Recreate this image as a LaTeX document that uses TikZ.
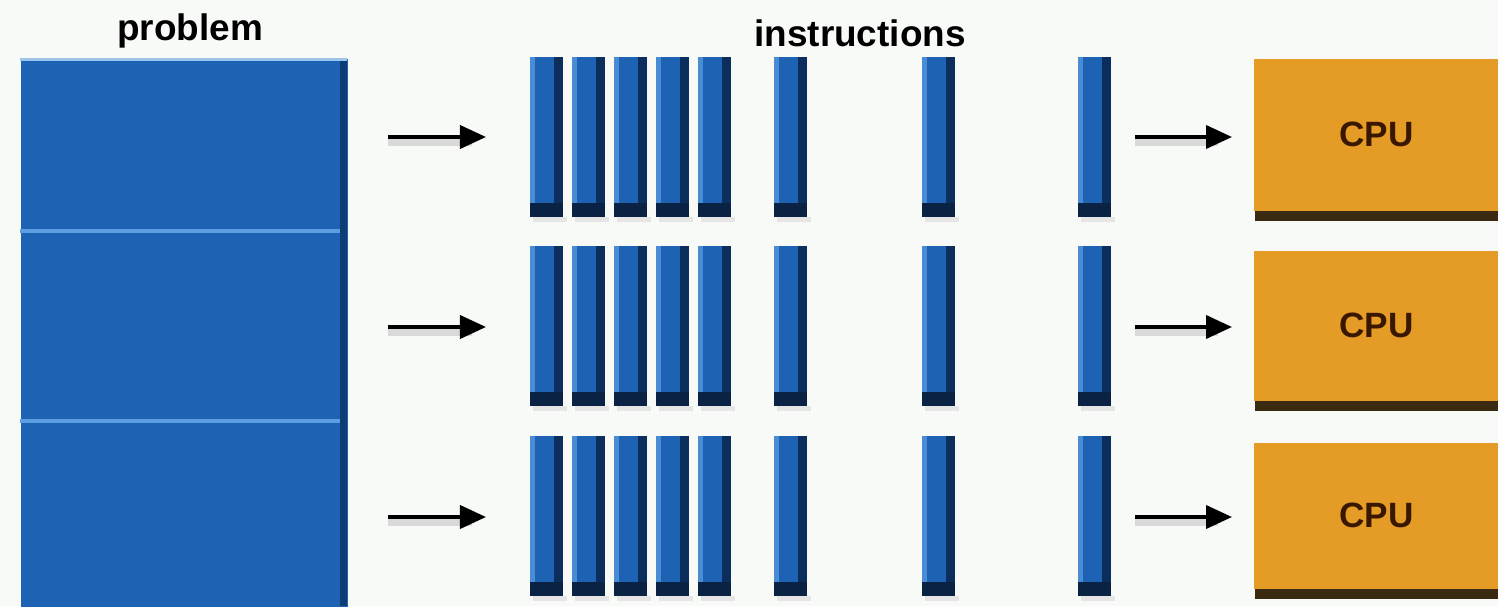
\documentclass[tikz,border=0pt]{standalone}
\usepackage{fontspec}
\setmainfont{Liberation Sans}
\usetikzlibrary{arrows.meta}
\definecolor{bgc}{HTML}{F8FAF7}
\definecolor{pblue}{HTML}{1E62B4}
\definecolor{pdark}{HTML}{0E3D74}
\definecolor{plight}{HTML}{5C9EE0}
\definecolor{bdark}{HTML}{0B2E5C}
\definecolor{bbot}{HTML}{0A2244}
\definecolor{cpuor}{HTML}{E49C26}
\definecolor{cpush}{HTML}{3B2A12}
\definecolor{cputx}{HTML}{3A1800}
\tikzset{
  lbl/.style={font=\fontsize{10.5}{12}\selectfont\bfseries, text=black, inner sep=0pt},
  cpubox/.style={fill=cpuor, draw=none, minimum width=2.45cm, minimum height=1.52cm, anchor=north west, inner sep=0pt,
     font=\fontsize{10}{12}\selectfont\bfseries, text=cputx},
  arr/.style={line width=1.1pt, -{Triangle[length=2.6mm, width=2.3mm]}, black},
  arrsh/.style={line width=2pt, black!15},
  probpart/.style={fill=pblue, draw=none, anchor=north west, minimum width=3.27cm, inner sep=0pt}
}
\begin{document}
\begin{tikzpicture}[x=0.01cm, y=-0.01cm]
\useasboundingbox (0,0) rectangle (1498,606);
\fill[bgc] (0,0) rectangle (1498,606);

% labels
\node[lbl] (tprob) at (190,31) {problem};
\node[lbl] (tinst) at (860,33) {instructions};

% problem box
\node[probpart, minimum height=1.73cm] (prob1) at (20,58) {};
\node[probpart, minimum height=1.90cm] (prob2) at (20,231) {};
\node[probpart, minimum height=1.85cm] (prob3) at (20,421) {};
\fill[pdark] (340,58) rectangle (347,606);
\fill[plight!60!white] (20,58) rectangle (347,61);
\fill[plight] (20,229) rectangle (340,233);
\fill[plight] (20,419) rectangle (340,423);

% instruction bars
\foreach \r/\t in {1/57, 2/246, 3/436} {
  \foreach \i/\xl in {1/530, 2/572, 3/614, 4/656, 5/698, 6/774, 7/922, 8/1078} {
    \fill[black!10] (\xl+3,\t+160) rectangle (\xl+37,\t+165);
    \fill[pblue] (\xl,\t) rectangle (\xl+33,\t+160);
    \fill[plight!70!pblue] (\xl,\t) rectangle (\xl+5,\t+160);
    \fill[bdark] (\xl+24,\t) rectangle (\xl+33,\t+160);
    \fill[bbot] (\xl,\t+146) rectangle (\xl+33,\t+160);
    \coordinate (bar\r\i) at (\xl+16,\t+80);
  }
}

% CPU boxes
\foreach \r/\t/\h in {1/58/152, 2/250/150, 3/442/146} {
  \fill[cpush] (1255,\t+\h) rectangle (1498,\t+\h+11);
}
\node[cpubox, minimum height=1.52cm] (cpu1) at (1253,58) {CPU};
\node[cpubox, minimum height=1.50cm] (cpu2) at (1253,250) {CPU};
\node[cpubox, minimum height=1.46cm] (cpu3) at (1253,442) {CPU};

% arrows
\foreach \r/\y in {1/137, 2/327, 3/517} {
  \coordinate (la\r s) at (388,\y);
  \coordinate (la\r e) at (486,\y);
  \coordinate (ra\r s) at (1135,\y);
  \coordinate (ra\r e) at (1232,\y);
  \draw[arrsh] ([yshift=-1.6pt]la\r s) -- ([yshift=-1.6pt,xshift=-4pt]la\r e);
  \draw[arrsh] ([yshift=-1.6pt]ra\r s) -- ([yshift=-1.6pt,xshift=-4pt]ra\r e);
  \draw[arr] (la\r s) -- (la\r e);
  \draw[arr] (ra\r s) -- (ra\r e);
}
\end{tikzpicture}
\end{document}
